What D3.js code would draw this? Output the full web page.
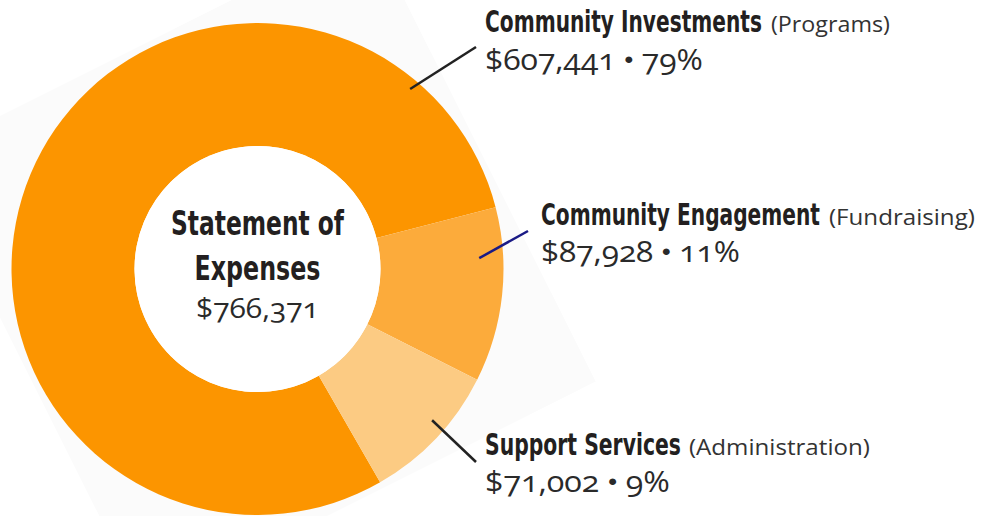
<!DOCTYPE html>
<html><head><meta charset="utf-8">
<script src="https://cdn.jsdelivr.net/npm/d3@7"></script>
<style>
html,body{margin:0;padding:0;background:#fff;}
svg{display:block;}
.title{font-family:"Liberation Sans Narrow","DejaVu Sans Condensed","Roboto Condensed",sans-serif;font-weight:700;fill:#231f20;}
.sub{font-family:"Open Sans","Noto Sans",sans-serif;font-weight:400;fill:#333;}
.val{font-family:"Open Sans","Noto Sans",sans-serif;font-weight:400;fill:#2a2a2a;font-feature-settings:"onum" 1;font-variant-numeric:oldstyle-nums;}
</style>
</head><body>
<svg id="chart" width="992" height="516"></svg>
<script>
// ---- data ----
const categories = ["Community Investments", "Community Engagement", "Support Services"];
const subLabels = ["(Programs)", "(Fundraising)", "(Administration)"];
const values = [607441, 87928, 71002];
const percents = ["79%", "11%", "9%"];
const centerTitle = ["Statement of", "Expenses"];
const colors = ["#fc9500", "#fcab3b", "#fccb83"];

// ---- layout ----
const cx = 257.5, cy = 269, outerR = 246, innerR = 123;
const svg = d3.select("#chart");
const fmt = d3.format("$,");
const total = d3.sum(values);

// place a text at (x, y), squeezed horizontally to a target width
function fitText(parent, cls, parts, x, y, fs, width, anchor) {
  const t = parent.append("text").attr("class", cls).attr("font-size", fs)
    .attr("text-anchor", anchor || "start");
  (Array.isArray(parts) ? parts : [{s: parts}]).forEach(p => {
    const ts = t.append("tspan").text(p.s);
    if (p.fs) ts.attr("font-size", p.fs);
    if (p.dy) ts.attr("dy", p.dy);
  });
  const w = t.node().getComputedTextLength();
  const s = w > 0 ? width / w : 1;
  t.attr("transform", `translate(${x},${y}) scale(${s},1)`);
  return t;
}

// faint rotated square backdrop
svg.append("rect")
  .attr("x", cx - 252).attr("y", cy - 252).attr("width", 504).attr("height", 504)
  .attr("fill", "#fbfbfb")
  .attr("transform", `rotate(-26.6 ${cx} ${cy})`);

const g = svg.append("g").attr("transform", `translate(${cx},${cy})`);
const deg = Math.PI / 180;
const pie = d3.pie().sort(null).value(d => d)
  .startAngle(-209.9 * deg).endAngle((360 - 209.9) * deg);
const arc = d3.arc().innerRadius(innerR).outerRadius(outerR);

g.selectAll("path.slice").data(pie(values)).join("path")
  .attr("class", "slice")
  .attr("d", arc)
  .attr("fill", (d, i) => colors[i]);

g.append("circle").attr("r", innerR).attr("fill", "#fff");

// center text
fitText(g, "title", centerTitle[0], 0, 235 - cy, 34, 173, "middle");
fitText(g, "title", centerTitle[1], 0, 280 - cy, 34, 126, "middle");
fitText(g, "val", fmt(total), 0, 318 - cy, 27, 123, "middle");

// labels
const labelLayout = [
  {x: 485, y1: 32, y2: 70, tw: 277, sx: 771, sw: 119, vw: 218, lineAng: 40.3, lineR: 236, lx: 476, ly: 47, lc: "#222"},
  {x: 541, y1: 225, y2: 262, tw: 279, sx: 829, sw: 146, vw: 199, lineAng: 87.2, lineR: 222, lx: 528, ly: 231, lc: "#1a1a85"},
  {x: 485, y1: 455, y2: 492, tw: 196, sx: 689, sw: 181, vw: 185, lineAng: 130.9, lineR: 231, lx: 476, ly: 462, lc: "#222"}
];

categories.forEach((c, i) => {
  const L = labelLayout[i];
  const p = d3.pointRadial(L.lineAng * deg, L.lineR);
  svg.append("line")
    .attr("x1", cx + p[0]).attr("y1", cy + p[1])
    .attr("x2", L.lx).attr("y2", L.ly)
    .attr("stroke", L.lc).attr("stroke-width", 2.5);
  fitText(svg, "title", c, L.x, L.y1, 30, L.tw);
  fitText(svg, "sub", subLabels[i], L.sx, L.y1, 22, L.sw);
  fitText(svg, "val", [
    {s: fmt(values[i]) + " "},
    {s: "\u25CF", fs: 15, dy: -6},
    {s: " " + percents[i], dy: 6}
  ], L.x, L.y2, 30, L.vw);
});
</script>
</body></html>
